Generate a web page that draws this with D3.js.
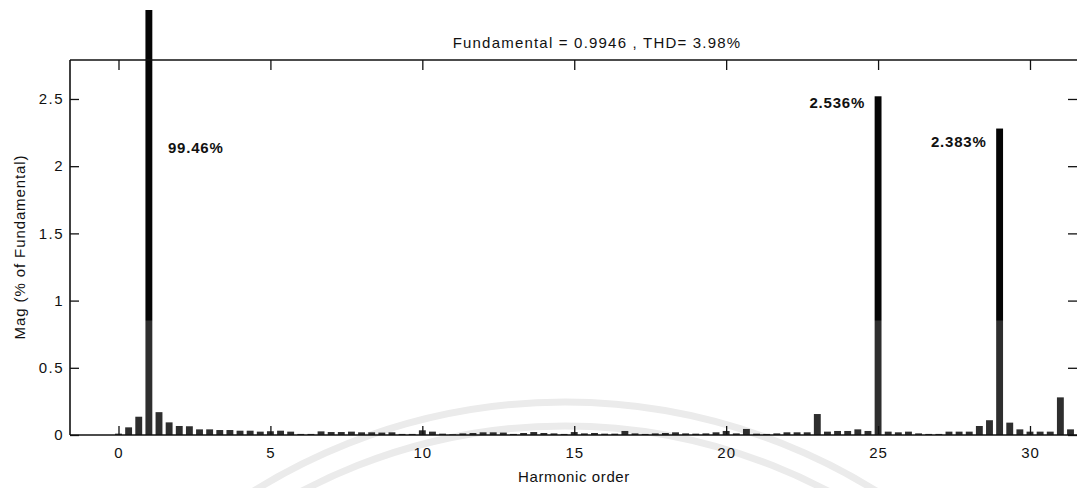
<!DOCTYPE html>
<html>
<head>
<meta charset="utf-8">
<script src="https://cdn.jsdelivr.net/npm/d3@7/dist/d3.min.js"></script>
<style>
  * { margin: 0; padding: 0; }
  body { background: #fff; }
  text { font-family: "Liberation Sans", Arial, sans-serif; fill: #111; }
</style>
</head>
<body>
<div id="chart"></div>
<script>
// magnitude (% of fundamental) per harmonic: [h, h+1/3, h+2/3]
var harmonics = d3.range(0, 32);
var mags = [
  [0.01, 0.057, 0.136],
  [99.46, 0.17, 0.094],
  [0.067, 0.065, 0.042],
  [0.042, 0.037, 0.037],
  [0.032, 0.032, 0.025],
  [0.028, 0.032, 0.025],
  [0.008, 0.008, 0.027],
  [0.022, 0.022, 0.025],
  [0.02, 0.02, 0.018],
  [0.02, 0.008, 0.008],
  [0.035, 0.025, 0.01],
  [0.005, 0.012, 0.015],
  [0.02, 0.02, 0.018],
  [0.008, 0.015, 0.022],
  [0.015, 0.012, 0.008],
  [0.022, 0.012, 0.015],
  [0.01, 0.01, 0.03],
  [0.012, 0.008, 0.012],
  [0.015, 0.02, 0.012],
  [0.01, 0.012, 0.02],
  [0.03, 0.012, 0.045],
  [0.01, 0.008, 0.012],
  [0.02, 0.02, 0.02],
  [0.156, 0.025, 0.03],
  [0.03, 0.042, 0.03],
  [2.52, 0.025, 0.02],
  [0.025, 0.012, 0.008],
  [0.008, 0.025, 0.025],
  [0.025, 0.067, 0.11],
  [2.28, 0.092, 0.042],
  [0.025, 0.025, 0.025],
  [0.28, 0.042]
];
var xTicks = [0, 5, 10, 15, 20, 25, 30];
var yTicks = [0, 0.5, 1, 1.5, 2, 2.5];
var peakHarmonics = [1, 25, 29];
var peakTexts = ["99.46%", "2.536%", "2.383%"];
var titleText = "Fundamental = 0.9946 , THD= 3.98%";

var W = 1077, H = 488;
var pLeft = 70, pRight = 1078, pTop = 60, pBottom = 435;

var bars = [];
mags.forEach(function (row, h) {
  row.forEach(function (v, j) { bars.push({ x: harmonics[h] + j / 3, v: v }); });
});

var svg = d3.select("#chart").append("svg")
  .attr("width", W).attr("height", H);

var defs = svg.append("defs");
var grad = defs.append("linearGradient").attr("id", "barfill")
  .attr("gradientUnits", "userSpaceOnUse")
  .attr("x1", 0).attr("y1", 0).attr("x2", 0).attr("y2", H);
grad.append("stop").attr("offset", 320 / H).attr("stop-color", "#050505");
grad.append("stop").attr("offset", 321 / H).attr("stop-color", "#2e2e2e");
grad.append("stop").attr("offset", 1).attr("stop-color", "#2e2e2e");

// faint watermark arcs from the scan
svg.append("circle").attr("cx", 565).attr("cy", 990).attr("r", 588)
  .attr("fill", "none").attr("stroke", "#ebebeb").attr("stroke-width", 7);
svg.append("circle").attr("cx", 565).attr("cy", 990).attr("r", 564)
  .attr("fill", "none").attr("stroke", "#ebebeb").attr("stroke-width", 7);

var xScale = d3.scaleLinear().domain([-1.596, 31.58]).range([pLeft, pRight]);
var yScale = d3.scaleLinear().domain([0, 2.79]).range([pBottom, pTop]);
var bw = (xScale(1) - xScale(0)) / 3 * 0.68;

// bars (the fundamental runs out past the axes box)
svg.selectAll(".bar")
  .data(bars)
  .enter()
  .append("rect")
  .attr("class", "bar")
  .attr("x", function (d) { return xScale(d.x) - bw / 2; })
  .attr("y", function (d) { return Math.max(yScale(d.v), 10); })
  .attr("width", bw)
  .attr("height", function (d) { return pBottom - Math.max(yScale(d.v), 10); })
  .attr("fill", "url(#barfill)");

// box
var axisColor = "#111";
function edge(x1, y1, x2, y2) {
  svg.append("line").attr("x1", x1).attr("y1", y1).attr("x2", x2).attr("y2", y2)
    .attr("stroke", axisColor).attr("stroke-width", 1.6);
}
edge(pLeft, pTop, pRight, pTop);
edge(pLeft, pBottom, pRight, pBottom);
edge(pLeft, pTop, pLeft, pBottom);
edge(pRight, pTop, pRight, pBottom);

// x axis (ticks inside, bottom and top)
var xAxis = svg.append("g")
  .attr("transform", "translate(0," + pBottom + ")")
  .call(d3.axisBottom(xScale).tickValues(xTicks).tickSizeInner(-9).tickSizeOuter(0).tickPadding(12));
xAxis.select(".domain").remove();
xAxis.selectAll("line").attr("stroke", axisColor).attr("stroke-width", 1.3);
xAxis.selectAll("text").style("font-size", "15px").attr("letter-spacing", "1px");

var xTop = svg.append("g")
  .attr("transform", "translate(0," + pTop + ")")
  .call(d3.axisTop(xScale).tickValues(xTicks).tickSizeInner(-10).tickSizeOuter(0).tickFormat(""));
xTop.select(".domain").remove();
xTop.selectAll("line").attr("stroke", axisColor).attr("stroke-width", 1.3);

// y axis (ticks inside, left and right)
var yAxis = svg.append("g")
  .attr("transform", "translate(" + pLeft + ",0)")
  .call(d3.axisLeft(yScale).tickValues(yTicks).tickSizeInner(-9).tickSizeOuter(0).tickPadding(6)
    .tickFormat(function (d) { return d3.format("")(d); }));
yAxis.select(".domain").remove();
yAxis.selectAll("line").attr("stroke", axisColor).attr("stroke-width", 1.3);
yAxis.selectAll("text").style("font-size", "15px").attr("letter-spacing", "1.5px");

var yRight = svg.append("g")
  .attr("transform", "translate(" + pRight + ",0)")
  .call(d3.axisRight(yScale).tickValues(yTicks).tickSizeInner(-10).tickSizeOuter(0).tickFormat(""));
yRight.select(".domain").remove();
yRight.selectAll("line").attr("stroke", axisColor).attr("stroke-width", 1.3);

// peak labels: fundamental's label to the right, others to the left of their bar
svg.selectAll(".peak")
  .data(peakHarmonics)
  .enter()
  .append("text")
  .attr("class", "peak")
  .attr("x", function (h, i) { return i === 0 ? xScale(h) + 19 : xScale(h) - 13; })
  .attr("y", function (h, i) {
    if (i === 0) return 153;
    return yScale(mags[h][0]) + (i === 1 ? 12 : 18);
  })
  .attr("text-anchor", function (h, i) { return i === 0 ? "start" : "end"; })
  .style("font-size", "15px")
  .style("font-weight", "bold")
  .attr("letter-spacing", "0.8px")
  .text(function (h, i) { return peakTexts[i]; });

// titles
svg.append("text")
  .attr("x", 597).attr("y", 48)
  .attr("text-anchor", "middle")
  .style("font-size", "15px")
  .attr("letter-spacing", "1.2px")
  .text(titleText);

svg.append("text")
  .attr("x", (pLeft + pRight) / 2).attr("y", 482)
  .attr("text-anchor", "middle")
  .style("font-size", "15px")
  .attr("letter-spacing", "0.6px")
  .text("Harmonic order");

svg.append("text")
  .attr("transform", "translate(25," + 247 + ") rotate(-90)")
  .attr("text-anchor", "middle")
  .style("font-size", "15px")
  .attr("letter-spacing", "0.9px")
  .text("Mag (% of Fundamental)");
</script>
</body>
</html>
